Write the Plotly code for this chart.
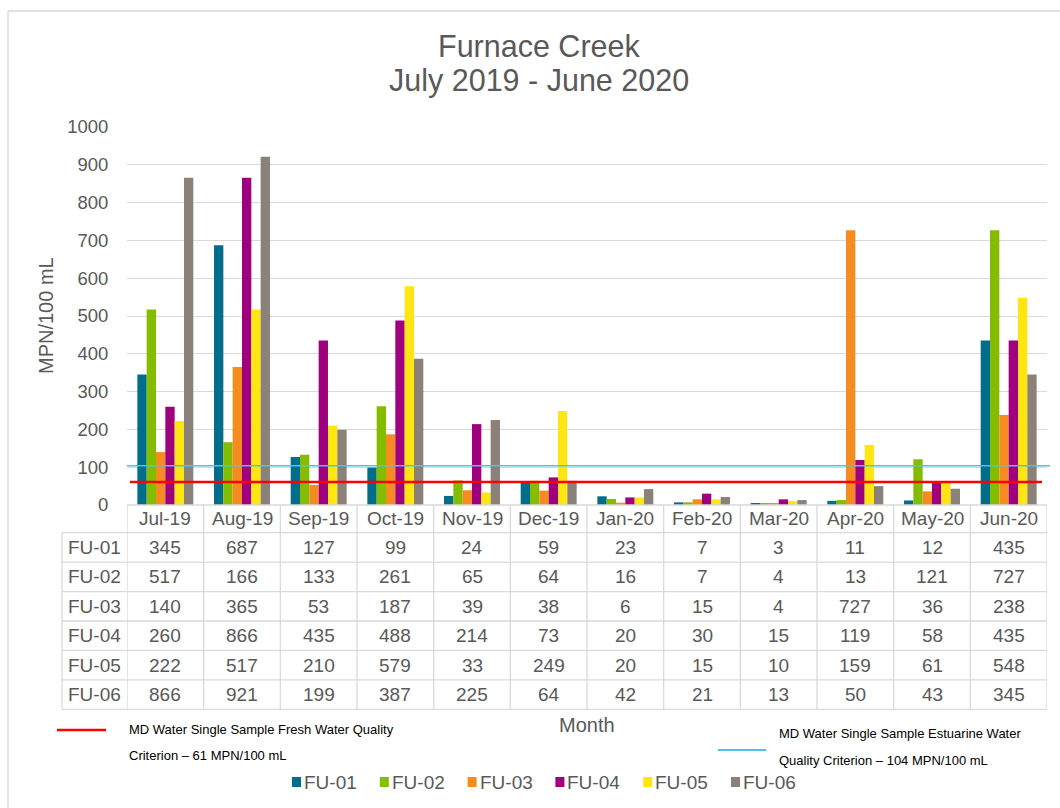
import plotly.graph_objects as go

months = ["Jul-19", "Aug-19", "Sep-19", "Oct-19", "Nov-19", "Dec-19",
          "Jan-20", "Feb-20", "Mar-20", "Apr-20", "May-20", "Jun-20"]
series_names = ["FU-01", "FU-02", "FU-03", "FU-04", "FU-05", "FU-06"]
fu01 = [345, 687, 127, 99, 24, 59, 23, 7, 3, 11, 12, 435]
fu02 = [517, 166, 133, 261, 65, 64, 16, 7, 4, 13, 121, 727]
fu03 = [140, 365, 53, 187, 39, 38, 6, 15, 4, 727, 36, 238]
fu04 = [260, 866, 435, 488, 214, 73, 20, 30, 15, 119, 58, 435]
fu05 = [222, 517, 210, 579, 33, 249, 20, 15, 10, 159, 61, 548]
fu06 = [866, 921, 199, 387, 225, 64, 42, 21, 13, 50, 43, 345]
series_values = [fu01, fu02, fu03, fu04, fu05, fu06]
colors = ["#006E8A", "#84BC00", "#F68B1F", "#9E007E", "#FFE512", "#8B8178"]

fresh_criterion = 61
estuarine_criterion = 104
fresh_label = ["MD Water Single Sample Fresh Water Quality", "Criterion \u2013 61 MPN/100 mL"]
estuarine_label = ["MD Water Single Sample Estuarine Water", "Quality Criterion \u2013 104 MPN/100 mL"]
y_ticks = [0, 100, 200, 300, 400, 500, 600, 700, 800, 900, 1000]

W, H = 1060, 808
PL, PR, PT, PB = 127, 1047, 127, 505  # plot area in pixels
FONT = "Liberation Sans, Arial, sans-serif"
GRAY = "#595959"
LINE = "#D9D9D9"


def px_x(px):
    return (px - PL) / (PR - PL)


def px_y(py):
    return (PB - py) / (PB - PT)


fig = go.Figure()
for name, vals, col in zip(series_names, series_values, colors):
    fig.add_trace(go.Bar(x=months, y=vals, name=name, marker=dict(color=col, line=dict(width=0)),
                         showlegend=False))

shapes = []
annotations = []

# criterion lines
shapes.append(dict(type="line", xref="paper", yref="y", x0=px_x(130), x1=px_x(1042),
                   y0=fresh_criterion, y1=fresh_criterion, line=dict(color="#FF0000", width=2.5), layer="above"))
shapes.append(dict(type="line", xref="paper", yref="y", x0=0, x1=px_x(1050),
                   y0=estuarine_criterion, y1=estuarine_criterion, line=dict(color="#4FC1E9", width=1.4), layer="above"))

# data table
row_top = 532.7
row_h = 29.43
table_bottom = row_top + row_h * len(series_names)
for k in range(len(months) + 1):
    shapes.append(dict(type="line", xref="x", yref="paper", x0=k - 0.5, x1=k - 0.5,
                       y0=px_y(PB), y1=px_y(table_bottom), line=dict(color=LINE, width=1.3)))
shapes.append(dict(type="line", xref="paper", yref="paper", x0=px_x(62), x1=px_x(62),
                   y0=px_y(row_top), y1=px_y(table_bottom), line=dict(color=LINE, width=1.3)))
shapes.append(dict(type="line", xref="paper", yref="paper", x0=0, x1=1,
                   y0=px_y(PB), y1=px_y(PB), line=dict(color=LINE, width=1.3)))
for r in range(len(series_names) + 1):
    yy = px_y(row_top + r * row_h)
    shapes.append(dict(type="line", xref="paper", yref="paper", x0=px_x(62), x1=1,
                       y0=yy, y1=yy, line=dict(color=LINE, width=1.3)))

for m in months:
    annotations.append(dict(x=m, xref="x", yref="paper", y=px_y((PB + row_top) / 2), text=m,
                            showarrow=False, font=dict(family=FONT, size=19, color=GRAY),
                            xanchor="center", yanchor="middle"))
for r, (name, vals) in enumerate(zip(series_names, series_values)):
    yc = px_y(row_top + (r + 0.5) * row_h)
    annotations.append(dict(x=px_x(94.5), xref="paper", yref="paper", y=yc, text=name,
                            showarrow=False, font=dict(family=FONT, size=19, color=GRAY),
                            xanchor="center", yanchor="middle"))
    for m, v in zip(months, vals):
        annotations.append(dict(x=m, xref="x", yref="paper", y=yc, text=str(v),
                                showarrow=False, font=dict(family=FONT, size=19, color=GRAY),
                                xanchor="center", yanchor="middle"))

# title
annotations.append(dict(x=px_x(539), y=px_y(46.5), xref="paper", yref="paper", text="Furnace Creek",
                        showarrow=False, font=dict(family=FONT, size=30.5, color=GRAY),
                        xanchor="center", yanchor="middle"))
annotations.append(dict(x=px_x(539), y=px_y(80.5), xref="paper", yref="paper", text="July 2019 - June 2020",
                        showarrow=False, font=dict(family=FONT, size=30.5, color=GRAY),
                        xanchor="center", yanchor="middle"))
# axis titles
annotations.append(dict(x=px_x(46), y=px_y(316), xref="paper", yref="paper", text="MPN/100 mL",
                        showarrow=False, textangle=-90, font=dict(family=FONT, size=20, color=GRAY),
                        xanchor="center", yanchor="middle"))
annotations.append(dict(x=px_x(587), y=px_y(725), xref="paper", yref="paper", text="Month",
                        showarrow=False, font=dict(family=FONT, size=20, color=GRAY),
                        xanchor="center", yanchor="middle"))

# criterion legend
CF = 13
shapes.append(dict(type="line", xref="paper", yref="paper", x0=px_x(57), x1=px_x(106),
                   y0=px_y(730), y1=px_y(730), line=dict(color="#FF0000", width=2.5)))
annotations.append(dict(x=px_x(127), y=px_y(729), xref="paper", yref="paper", text=fresh_label[0],
                        showarrow=False, font=dict(family=FONT, size=CF, color="#000000"),
                        xanchor="left", yanchor="middle"))
annotations.append(dict(x=px_x(127), y=px_y(755), xref="paper", yref="paper", text=fresh_label[1],
                        showarrow=False, font=dict(family=FONT, size=CF, color="#000000"),
                        xanchor="left", yanchor="middle"))
shapes.append(dict(type="line", xref="paper", yref="paper", x0=px_x(718), x1=px_x(766),
                   y0=px_y(750), y1=px_y(750), line=dict(color="#4FC1E9", width=1.8)))
annotations.append(dict(x=px_x(777), y=px_y(733), xref="paper", yref="paper", text=estuarine_label[0],
                        showarrow=False, font=dict(family=FONT, size=CF, color="#000000"),
                        xanchor="left", yanchor="middle"))
annotations.append(dict(x=px_x(777), y=px_y(760), xref="paper", yref="paper", text=estuarine_label[1],
                        showarrow=False, font=dict(family=FONT, size=CF, color="#000000"),
                        xanchor="left", yanchor="middle"))

# series legend
leg_x0 = 292
leg_step = 87.8
leg_y = 782
for i, (name, col) in enumerate(zip(series_names, colors)):
    lx = leg_x0 + i * leg_step
    shapes.append(dict(type="rect", xref="paper", yref="paper", x0=px_x(lx), x1=px_x(lx + 9),
                       y0=px_y(leg_y + 5), y1=px_y(leg_y - 5), fillcolor=col, line=dict(width=0)))
    annotations.append(dict(x=px_x(lx + 10), y=px_y(leg_y), xref="paper", yref="paper", text=name,
                            showarrow=False, font=dict(family=FONT, size=19, color=GRAY),
                            xanchor="left", yanchor="middle"))

# outer chart frame
shapes.append(dict(type="line", xref="paper", yref="paper", x0=px_x(8), x1=px_x(8),
                   y0=px_y(11), y1=px_y(808), line=dict(color=LINE, width=1.3)))
shapes.append(dict(type="line", xref="paper", yref="paper", x0=px_x(8), x1=px_x(1060),
                   y0=px_y(11), y1=px_y(11), line=dict(color=LINE, width=1.3)))

fig.update_layout(
    width=W, height=H,
    margin=dict(l=PL, r=W - PR, t=PT, b=H - PB, pad=0),
    paper_bgcolor="white", plot_bgcolor="white",
    barmode="group", bargap=0.27, bargroupgap=0,
    showlegend=False,
    shapes=shapes, annotations=annotations,
    font=dict(family=FONT, color=GRAY),
)
fig.update_xaxes(type="category", range=[-0.5, len(months) - 0.5], showticklabels=False,
                 showgrid=False, zeroline=False, showline=False, ticks="")
fig.update_yaxes(range=[0, 1000], tickvals=y_ticks, showgrid=True, gridcolor=LINE, gridwidth=1.3,
                 zeroline=False, showline=False, ticks="outside", ticklen=14,
                 tickcolor="rgba(0,0,0,0)", tickfont=dict(family=FONT, size=18.5, color=GRAY))

fig.write_html("out.html")
